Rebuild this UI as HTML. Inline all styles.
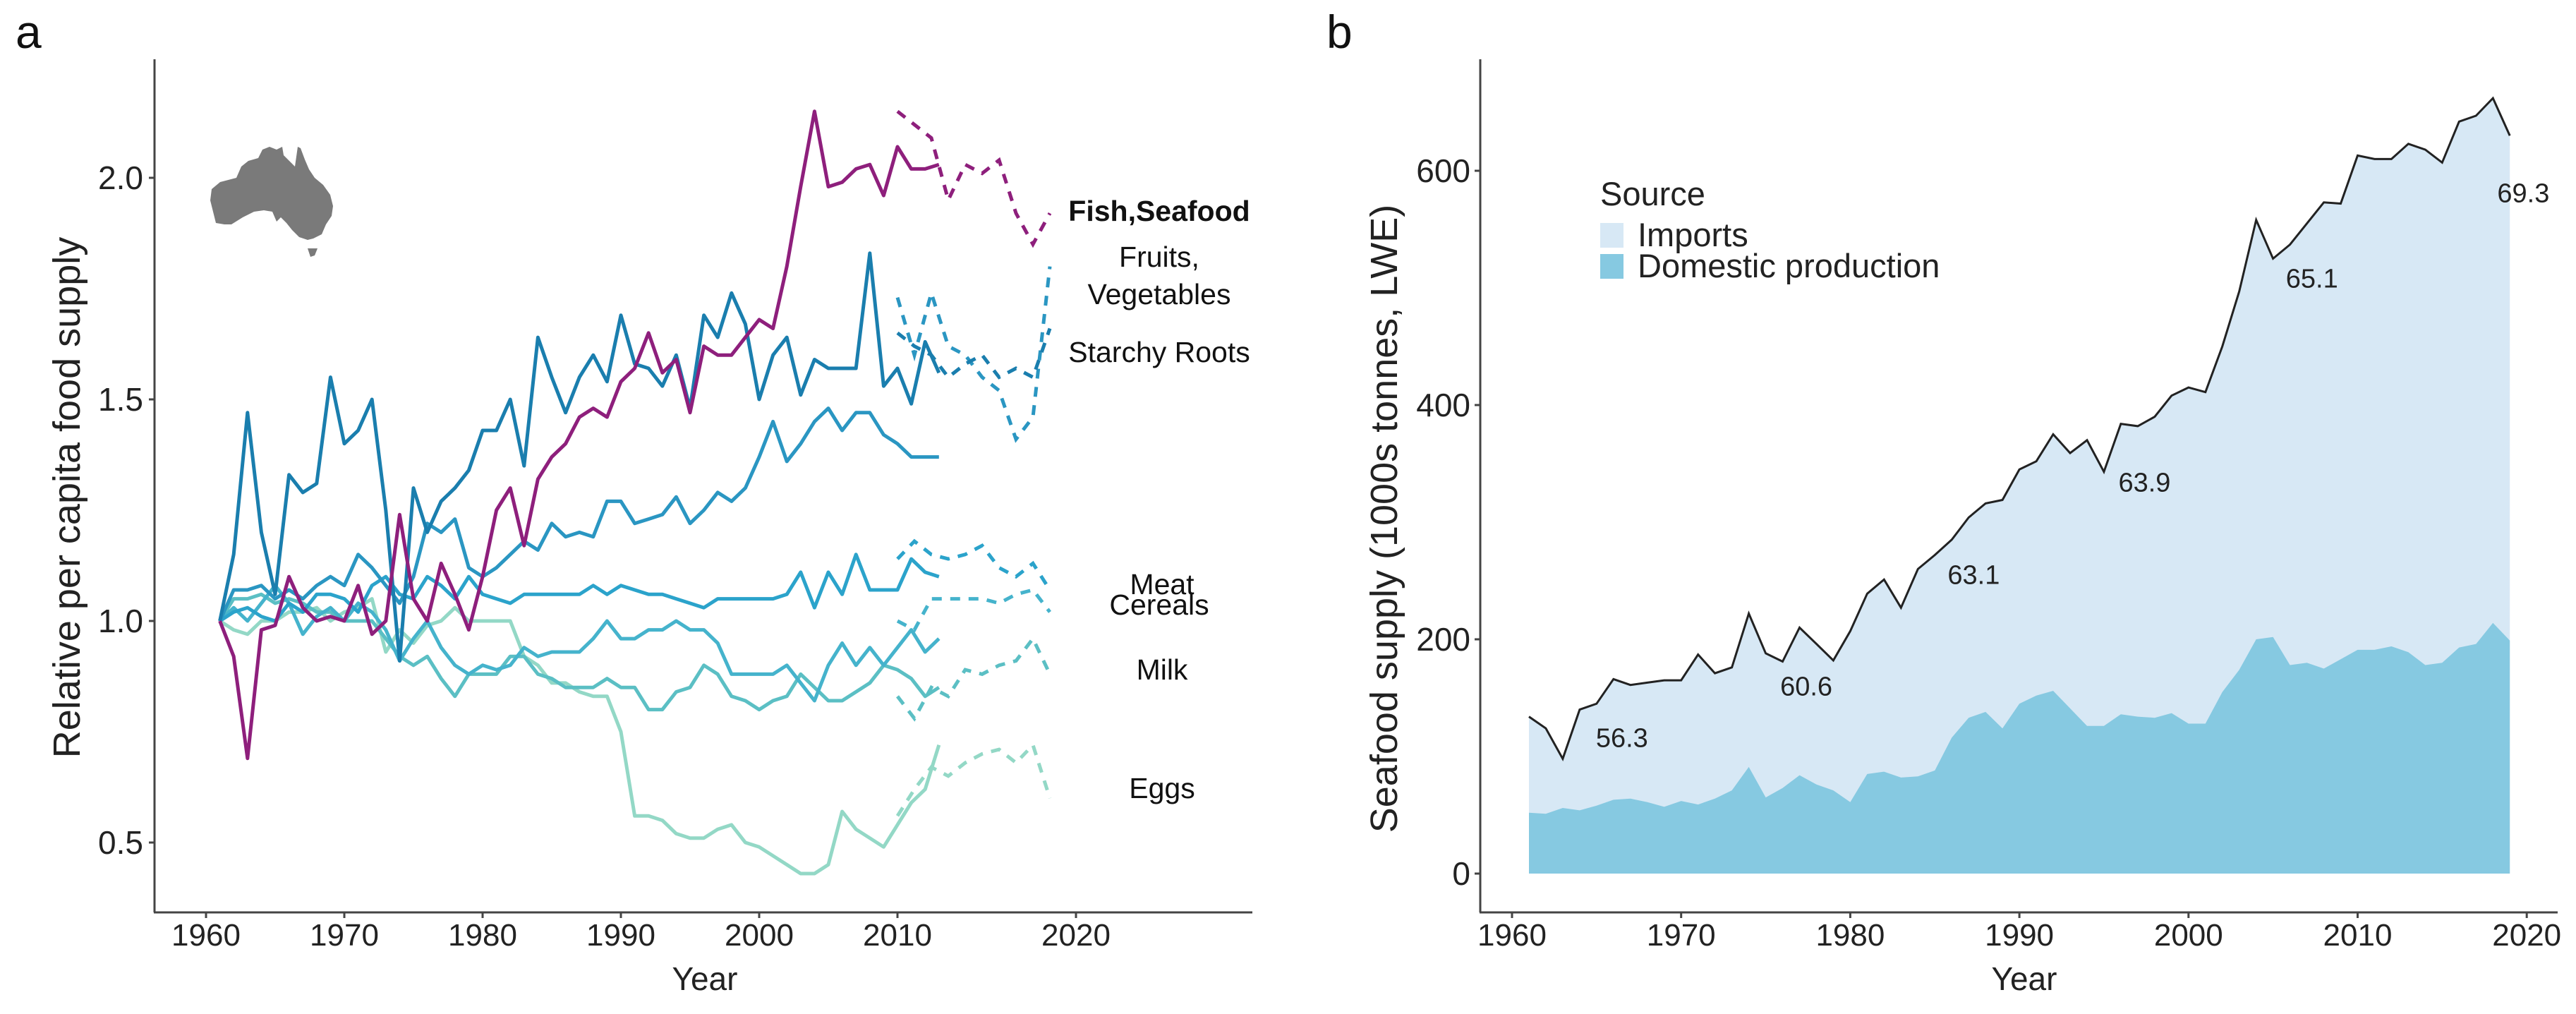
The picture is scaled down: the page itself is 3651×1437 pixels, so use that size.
<!DOCTYPE html>
<html><head><meta charset="utf-8">
<style>
html,body{margin:0;padding:0;background:#fff;}
svg{display:block;font-family:"Liberation Sans",sans-serif;}
</style></head>
<body>
<svg id="fig" width="3651" height="1437" viewBox="0 0 3651 1437" xmlns="http://www.w3.org/2000/svg">
<text x="22" y="68" font-size="66" fill="#111">a</text>
<text x="1880" y="68" font-size="66" fill="#111">b</text>
<g id="pa"></g>
<g id="pb"></g>
</svg>
<script>
// ---------- Panel A data ----------
const yearsA = []; for (let y = 1961; y <= 2013; y++) yearsA.push(y);
const yearsDash = [2010,2011,2012,2013,2014,2015,2016,2017,2018,2019];
const fishSolid = [1.0,0.92,0.69,0.98,0.99,1.1,1.03,1.0,1.01,1.0,1.08,0.97,1.0,1.24,1.05,1.0,1.13,1.06,0.98,1.1,1.25,1.3,1.17,1.32,1.37,1.4,1.46,1.48,1.46,1.54,1.57,1.65,1.56,1.59,1.47,1.62,1.6,1.6,1.64,1.68,1.66,1.8,1.98,2.15,1.98,1.99,2.02,2.03,1.96,2.07,2.02,2.02,2.03];
const fishDash = [2.15,2.12,2.09,1.95,2.03,2.01,2.04,1.92,1.85,1.92];
const starchySolid = [1.0,1.15,1.47,1.2,1.06,1.33,1.29,1.31,1.55,1.4,1.43,1.5,1.25,0.91,1.3,1.2,1.27,1.3,1.34,1.43,1.43,1.5,1.35,1.64,1.55,1.47,1.55,1.6,1.54,1.69,1.58,1.57,1.53,1.6,1.48,1.69,1.64,1.74,1.67,1.5,1.6,1.64,1.51,1.59,1.57,1.57,1.57,1.83,1.53,1.57,1.49,1.63,1.56];
const starchyDash = [1.65,1.62,1.6,1.55,1.58,1.6,1.55,1.57,1.55,1.66];
const fruitsSolid = [1.0,1.07,1.07,1.08,1.05,1.07,1.05,1.08,1.1,1.08,1.15,1.12,1.08,1.04,1.1,1.22,1.2,1.23,1.12,1.1,1.12,1.15,1.18,1.16,1.22,1.19,1.2,1.19,1.27,1.27,1.22,1.23,1.24,1.28,1.22,1.25,1.29,1.27,1.3,1.37,1.45,1.36,1.4,1.45,1.48,1.43,1.47,1.47,1.42,1.4,1.37,1.37,1.37];
const fruitsDash = [1.73,1.6,1.74,1.62,1.6,1.55,1.52,1.41,1.46,1.8];
const meatSolid = [1.0,1.02,1.03,1.01,1.0,1.04,1.02,1.06,1.06,1.05,1.02,1.08,1.1,1.06,1.05,1.1,1.08,1.05,1.1,1.06,1.05,1.04,1.06,1.06,1.06,1.06,1.06,1.08,1.06,1.08,1.07,1.06,1.06,1.05,1.04,1.03,1.05,1.05,1.05,1.05,1.05,1.06,1.11,1.03,1.11,1.06,1.15,1.07,1.07,1.07,1.14,1.11,1.1];
const meatDash = [1.14,1.18,1.15,1.14,1.15,1.17,1.12,1.1,1.13,1.07];
const cerealsSolid = [1.0,1.03,1.0,1.04,1.08,1.04,0.97,1.01,1.03,1.0,1.04,1.02,0.98,0.91,0.96,1.0,0.94,0.9,0.88,0.9,0.89,0.9,0.94,0.92,0.93,0.93,0.93,0.96,1.0,0.96,0.96,0.98,0.98,1.0,0.98,0.98,0.95,0.88,0.88,0.88,0.88,0.9,0.86,0.82,0.9,0.95,0.9,0.94,0.9,0.94,0.98,0.93,0.96];
const cerealsDash = [1.0,0.98,1.05,1.05,1.05,1.05,1.04,1.06,1.07,1.02];
const milkSolid = [1.0,1.05,1.05,1.06,1.04,1.05,1.04,1.02,1.02,1.0,1.0,1.0,0.96,0.92,0.9,0.92,0.87,0.83,0.88,0.88,0.88,0.92,0.92,0.88,0.87,0.85,0.85,0.85,0.87,0.85,0.85,0.8,0.8,0.84,0.85,0.9,0.88,0.83,0.82,0.8,0.82,0.83,0.88,0.85,0.82,0.82,0.84,0.86,0.9,0.89,0.87,0.83,0.85];
const milkDash = [0.83,0.78,0.85,0.83,0.89,0.88,0.9,0.91,0.96,0.88];
const eggsSolid = [1.0,0.98,0.97,1.0,1.0,1.02,1.02,1.03,1.0,1.02,1.03,1.05,0.93,0.98,0.95,0.99,1.0,1.03,1.0,1.0,1.0,1.0,0.92,0.9,0.86,0.86,0.84,0.83,0.83,0.75,0.56,0.56,0.55,0.52,0.51,0.51,0.53,0.54,0.5,0.49,0.47,0.45,0.43,0.43,0.45,0.57,0.53,0.51,0.49,0.54,0.59,0.62,0.72];
const eggsDash = [0.56,0.62,0.67,0.65,0.68,0.7,0.71,0.68,0.72,0.6];
const ticksA_y = [0.5,1.0,1.5,2.0];
const ticksA_yLabels = ["0.5","1.0","1.5","2.0"];
const ticksA_x = [1960,1970,1980,1990,2000,2010,2020];

// ---------- Panel B data ----------
const yearsB = []; for (let y = 1961; y <= 2019; y++) yearsB.push(y);
const totalSupply = [134,124,98,140,145,166,161,163,165,165,187,171,176,222,188,181,210,196,182,207,239,251,227,260,272,285,304,316,319,345,352,375,359,370,343,384,382,390,408,415,411,450,497,558,525,537,555,573,572,613,610,610,623,618,607,642,647,662,630];
const domesticProd = [52,51,56,54,58,63,64,61,57,62,59,64,71,91,65,73,84,76,71,61,85,87,82,83,88,116,133,138,124,145,152,156,141,126,126,136,134,133,137,128,128,155,174,200,202,178,180,175,183,191,191,194,189,178,180,193,196,214,199];
const pctLabels = ["56.3","60.6","63.1","63.9","65.1","69.3"];
const pctYears = [1966.5,1977.4,1987.3,1997.4,2007.3,2019.8];
const pctValues = [116,160,255,334,508,581];
const ticksB_y = [0,200,400,600];
const ticksB_x = [1960,1970,1980,1990,2000,2010,2020];

const NS = "http://www.w3.org/2000/svg";
function mk(parent, tag, attrs, text) {
  const e = document.createElementNS(NS, tag);
  for (const k in attrs) e.setAttribute(k, attrs[k]);
  if (text !== undefined) e.textContent = text;
  parent.appendChild(e);
  return e;
}

// ---------- Panel A ----------
const pa = document.getElementById('pa');
function xA(yr) { return yr <= 2010 ? 292 + (yr - 1960) * 19.6 : 1272 + (yr - 2010) * 25.3; }
function xAsolid(yr) { return 292 + (yr - 1960) * 19.6; }
function xAdash(yr) { return 1272 + (yr - 2010) * 24; }
function yA(v) { return 880 - (v - 1.0) * 628; }

let ax = mk(pa, 'line', {x1:219, y1:84, x2:219, y2:1293, stroke:'#444', 'stroke-width':3});


ax = mk(pa, 'line', {x1:218, y1:1293, x2:1775, y2:1293, stroke:'#444', 'stroke-width':3});



ticksA_y.forEach((v, i) => {
  const t = mk(pa, 'line', {x1:211, y1:yA(v), x2:219, y2:yA(v), stroke:'#444', 'stroke-width':3});
  
  
  const l = mk(pa, 'text', {x:203, y:yA(v) + 16, 'font-size':46, 'text-anchor':'end', fill:'#222'}, ticksA_yLabels[i]);
  
  
});
ticksA_x.forEach(yr => {
  const t = mk(pa, 'line', {x1:xA(yr), y1:1293, x2:xA(yr), y2:1301, stroke:'#444', 'stroke-width':3});
  
  
  const l = mk(pa, 'text', {x:xA(yr), y:1340, 'font-size':44, 'text-anchor':'middle', fill:'#222'}, String(yr));
  
  
});
let tt = mk(pa, 'text', {x:999, y:1403, 'font-size':46, 'text-anchor':'middle', fill:'#222'}, 'Year');


tt = mk(pa, 'text', {x:0, y:0, 'font-size':54, 'text-anchor':'middle', fill:'#222', transform:'translate(113,705) rotate(-90)'}, 'Relative per capita food supply');



// Australia map
const map = mk(pa, 'path', {d:'M300,268 L312,258 L335,252 L342,236 L352,228 L366,224 L372,212 L382,208 L392,212 L400,208 L402,220 L410,228 L418,236 L422,208 L426,210 L432,226 L438,240 L446,252 L458,262 L468,276 L472,292 L470,306 L462,318 L456,332 L444,338 L436,340 L424,336 L414,326 L406,316 L398,308 L392,314 L386,300 L374,298 L360,300 L344,308 L328,318 L318,318 L306,316 L302,300 L298,284 Z M436,352 L450,352 L446,362 L440,364 Z', fill:'#7a7a7a'});



function pathFrom(xs, vs, xf) {
  return vs.map((v, i) => (i ? 'L' : 'M') + xf(xs[i]).toFixed(1) + ',' + yA(v).toFixed(1)).join(' ');
}
const seriesA = [
  ['eggs', eggsSolid, eggsDash, '#93d8c6'],
  ['milk', milkSolid, milkDash, '#5bbfc4'],
  ['cereals', cerealsSolid, cerealsDash, '#45b3cc'],
  ['meat', meatSolid, meatDash, '#2ba3cb'],
  ['fruits-vegetables', fruitsSolid, fruitsDash, '#2a96c2'],
  ['starchy-roots', starchySolid, starchyDash, '#1a7eae'],
  ['fish-seafood', fishSolid, fishDash, '#8e1f7c']
];
seriesA.forEach(s => {
  const p1 = mk(pa, 'path', {d:pathFrom(yearsA, s[1], xAsolid), fill:'none', stroke:s[3], 'stroke-width':5, 'stroke-linejoin':'round'});
  
  
  const p2 = mk(pa, 'path', {d:pathFrom(yearsDash, s[2], xAdash), fill:'none', stroke:s[3], 'stroke-width':5, 'stroke-dasharray':'14 12'});
  
  
});
const catLabels = [
  ['Fish,Seafood', 1643, 313, 'bold', 'label-fish-seafood'],
  ['Fruits,', 1643, 378, 'normal', 'label-fruits'],
  ['Vegetables', 1643, 431, 'normal', 'label-vegetables'],
  ['Starchy Roots', 1643, 513, 'normal', 'label-starchy-roots'],
  ['Meat', 1647, 842, 'normal', 'label-meat'],
  ['Cereals', 1643, 871, 'normal', 'label-cereals'],
  ['Milk', 1647, 963, 'normal', 'label-milk'],
  ['Eggs', 1647, 1131, 'normal', 'label-eggs']
];
catLabels.forEach(c => {
  const l = mk(pa, 'text', {x:c[1], y:c[2], 'font-size':41, 'font-weight':c[3], 'text-anchor':'middle', fill:'#111'}, c[0]);
  
  
});

// ---------- Panel B ----------
const pb = document.getElementById('pb');
function xB(yr) { return 2143 + (yr - 1960) * 23.97; }
function yB(v) { return 1238 - v * 1.66; }

const impPts = yearsB.map((y, i) => xB(y).toFixed(1) + ',' + yB(totalSupply[i]).toFixed(1));
const domPts = yearsB.map((y, i) => xB(y).toFixed(1) + ',' + yB(domesticProd[i]).toFixed(1));
const base0 = yB(0).toFixed(1);
const xFirst = xB(yearsB[0]).toFixed(1), xLast = xB(yearsB[yearsB.length - 1]).toFixed(1);
let a1 = mk(pb, 'polygon', {points: xFirst + ',' + base0 + ' ' + impPts.join(' ') + ' ' + xLast + ',' + base0, fill:'#d7e8f5'});


let a2 = mk(pb, 'polygon', {points: xFirst + ',' + base0 + ' ' + domPts.join(' ') + ' ' + xLast + ',' + base0, fill:'#86c9e1'});


let tl = mk(pb, 'polyline', {points: impPts.join(' '), fill:'none', stroke:'#222', 'stroke-width':3});



ax = mk(pb, 'line', {x1:2098, y1:84, x2:2098, y2:1293, stroke:'#444', 'stroke-width':3});


ax = mk(pb, 'line', {x1:2097, y1:1293, x2:3625, y2:1293, stroke:'#444', 'stroke-width':3});


ticksB_y.forEach(v => {
  const t = mk(pb, 'line', {x1:2090, y1:yB(v), x2:2098, y2:yB(v), stroke:'#444', 'stroke-width':3});
  
  
  const l = mk(pb, 'text', {x:2084, y:yB(v) + 16, 'font-size':46, 'text-anchor':'end', fill:'#222'}, String(v));
  
  
});
ticksB_x.forEach(yr => {
  const t = mk(pb, 'line', {x1:xB(yr), y1:1293, x2:xB(yr), y2:1301, stroke:'#444', 'stroke-width':3});
  
  
  const l = mk(pb, 'text', {x:xB(yr), y:1340, 'font-size':44, 'text-anchor':'middle', fill:'#222'}, String(yr));
  
  
});
tt = mk(pb, 'text', {x:2869, y:1403, 'font-size':46, 'text-anchor':'middle', fill:'#222'}, 'Year');


tt = mk(pb, 'text', {x:0, y:0, 'font-size':54, 'text-anchor':'middle', fill:'#222', transform:'translate(1980,735) rotate(-90)'}, 'Seafood supply (1000s tonnes, LWE)');



pctLabels.forEach((s, i) => {
  const l = mk(pb, 'text', {x:xB(pctYears[i]), y:yB(pctValues[i]) + 13, 'font-size':38, 'text-anchor':'middle', fill:'#222'}, s);
  
  
});

// legend
const lg = mk(pb, 'g', {});


let lt = mk(lg, 'text', {x:2268, y:291, 'font-size':47, fill:'#222'}, 'Source');


let k = mk(lg, 'rect', {x:2268, y:316, width:33, height:35, fill:'#d7e8f5'});


k = mk(lg, 'rect', {x:2268, y:360, width:33, height:35, fill:'#86c9e1'});


lt = mk(lg, 'text', {x:2321, y:349, 'font-size':47, fill:'#222'}, 'Imports');


lt = mk(lg, 'text', {x:2321, y:393, 'font-size':47, fill:'#222'}, 'Domestic production');


</script>
</body></html>
